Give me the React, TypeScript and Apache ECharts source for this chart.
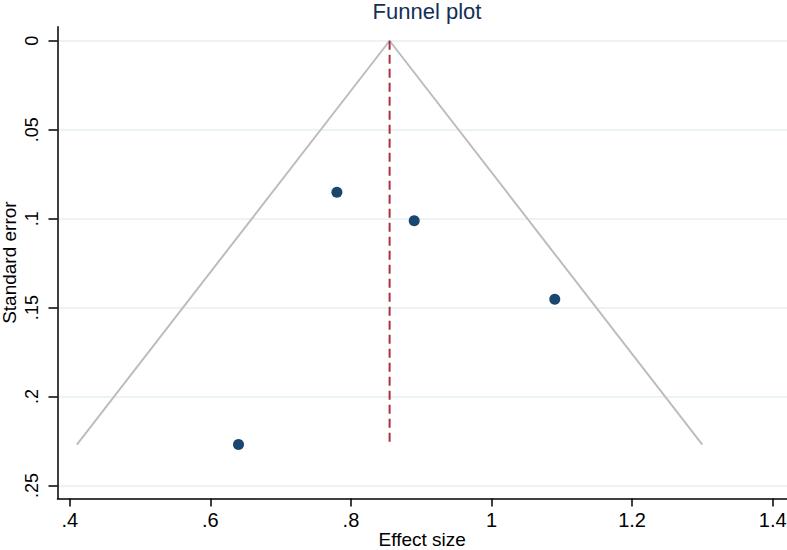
import React, { useEffect, useRef } from "react";
import * as echarts from "echarts";

// Study-level data
const effectSizes = [0.78, 0.89, 1.09, 0.64];
const standardErrors = [0.0852, 0.1012, 0.1453, 0.227];
const pooledEffect = 0.855;
const zCrit = 1.96;

// Axis ticks
const xTicks = [0.4, 0.6, 0.8, 1.0, 1.2, 1.4];
const yTicks = [0, 0.05, 0.1, 0.15, 0.2, 0.25];

const FONT = '"Liberation Sans", Arial, Helvetica, sans-serif';

const fmt = (v: number) => {
  if (v === 0) return "0";
  const s = String(+v.toFixed(4));
  return Math.abs(v) < 1 ? s.replace(/^0/, "") : s;
};

export default function App() {
  const ref = useRef<HTMLDivElement>(null);

  useEffect(() => {
    if (!ref.current) return;
    const chart = echarts.init(ref.current, undefined, { renderer: "svg" });

    const seMax = Math.max(...standardErrors);
    const funnel = [
      [pooledEffect - zCrit * seMax, seMax],
      [pooledEffect, 0],
      [pooledEffect + zCrit * seMax, seMax],
    ];
    const pooledLine = [
      [pooledEffect, 0],
      [pooledEffect, seMax],
    ];
    const points = effectSizes.map((x, i) => [x, standardErrors[i]]);

    chart.setOption({
      animation: false,
      backgroundColor: "#ffffff",
      textStyle: { fontFamily: FONT },
      title: {
        text: "Funnel plot",
        left: 422,
        textAlign: "center",
        top: -5,
        textStyle: {
          color: "#142f55",
          fontSize: 22,
          fontWeight: "normal",
          fontFamily: FONT,
        },
      },
      grid: {
        left: 57.5,
        top: 26.7,
        right: 0,
        bottom: 51.5,
        containLabel: false,
        outerBoundsMode: "none",
      },
      xAxis: {
        type: "value",
        min: 0.3825,
        max: 1.4204,
        name: "Effect size",
        nameLocation: "middle",
        nameGap: 31,
        nameMoveOverlap: false,
        nameTextStyle: { color: "#000", fontSize: 19, fontFamily: FONT },
        axisLine: { show: true, onZero: false, lineStyle: { color: "#000", width: 1.5 } },
        axisTick: {
          show: true,
          length: 8,
          customValues: xTicks,
          lineStyle: { color: "#000", width: 1.5 },
        },
        axisLabel: {
          customValues: xTicks,
          formatter: (v: number) => fmt(v),
          color: "#000",
          fontSize: 20,
          margin: 11,
          fontFamily: FONT,
        },
        splitLine: { show: false },
      },
      yAxis: {
        type: "value",
        inverse: true,
        min: -0.0079,
        max: 0.2573,
        name: "Standard error",
        nameLocation: "middle",
        nameRotate: 90,
        nameGap: 39,
        nameMoveOverlap: false,
        nameTextStyle: { color: "#000", fontSize: 19, fontFamily: FONT },
        axisLine: { show: true, onZero: false, lineStyle: { color: "#000", width: 1.5 } },
        axisTick: {
          show: true,
          length: 9,
          customValues: yTicks,
          lineStyle: { color: "#000", width: 1.5 },
        },
        axisLabel: {
          customValues: yTicks,
          rotate: 90,
          formatter: (v: number) => fmt(v),
          color: "#000",
          fontSize: 18,
          margin: 17,
          fontFamily: FONT,
        },
        splitLine: {
          show: true,
          lineStyle: { color: "#e6eff1", width: 1.5 },
        },
      },
      series: [
        {
          type: "line",
          data: funnel,
          symbol: "none",
          silent: true,
          lineStyle: { color: "#bdbdbd", width: 2 },
          z: 2,
        },
        {
          type: "line",
          data: pooledLine,
          symbol: "none",
          silent: true,
          lineStyle: { color: "#a8303f", width: 2, type: [9, 5] },
          z: 3,
        },
        {
          type: "scatter",
          data: points,
          symbol: "circle",
          symbolSize: 11,
          itemStyle: { color: "#1a476f", opacity: 1 },
          z: 4,
        },
      ],
    });

    return () => chart.dispose();
  }, []);

  return (
    <div
      ref={ref}
      style={{
        position: "fixed",
        left: 0,
        top: 0,
        width: 787,
        height: 550,
        background: "#fff",
      }}
    />
  );
}
